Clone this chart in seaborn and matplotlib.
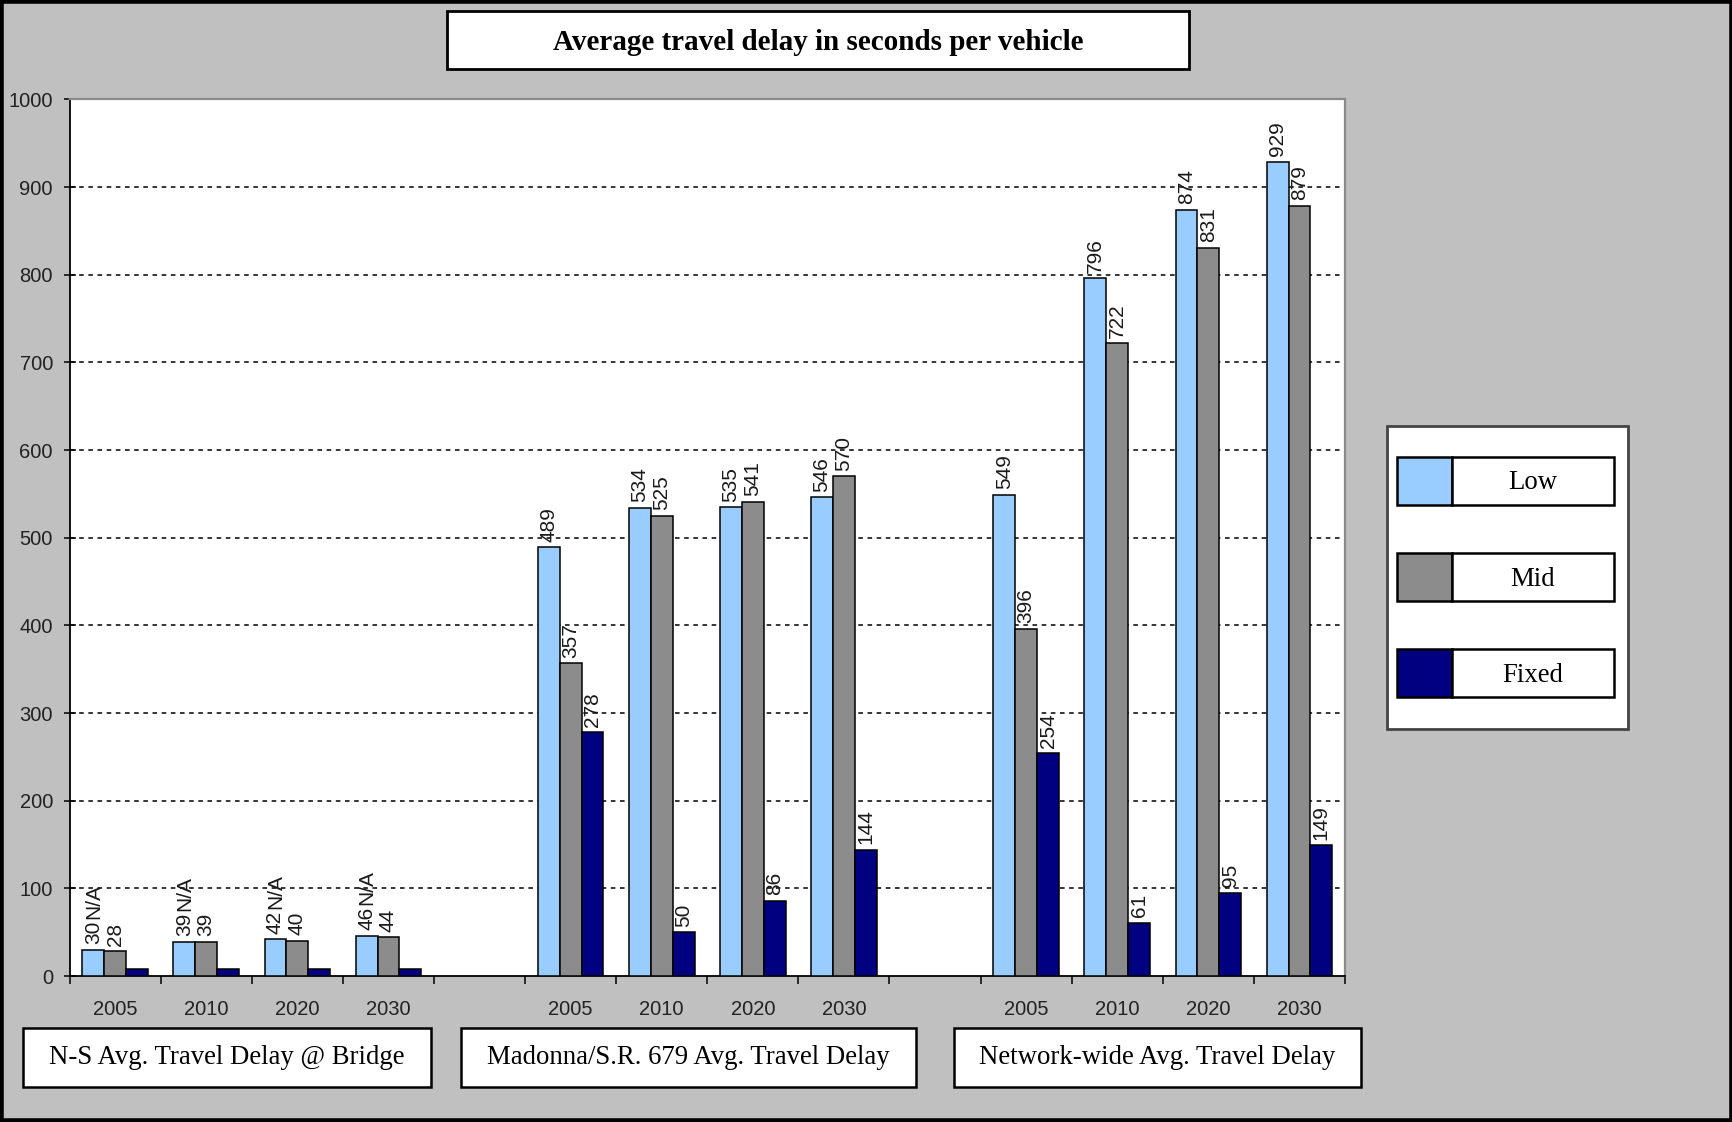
import matplotlib
matplotlib.use("Agg")
import numpy as np
import pandas as pd
import seaborn as sns
import matplotlib.pyplot as plt
from matplotlib.patches import Rectangle

# ---------------------------------------------------------------- data
years = ["2005", "2010", "2020", "2030"]
corridors = [
    "N-S Avg. Travel Delay @ Bridge",
    "Madonna/S.R. 679 Avg. Travel Delay",
    "Network-wide Avg. Travel Delay",
]
scenarios = ["Low", "Mid", "Fixed"]

ns_low = [30, 39, 42, 46]
ns_mid = [28, 39, 40, 44]
ns_fixed = [8, 8, 8, 8]          # placeholder height, reported as N/A
ns_fixed_label = "N/A"

mad_low = [489, 534, 535, 546]
mad_mid = [357, 525, 541, 570]
mad_fixed = [278, 50, 86, 144]

net_low = [549, 796, 874, 929]
net_mid = [396, 722, 831, 879]
net_fixed = [254, 61, 95, 149]

y_ticks = list(range(0, 1001, 100))

colors = {"Low": "#99CCFF", "Mid": "#8C8C8C", "Fixed": "#000080"}

series = {
    corridors[0]: {"Low": ns_low, "Mid": ns_mid, "Fixed": ns_fixed},
    corridors[1]: {"Low": mad_low, "Mid": mad_mid, "Fixed": mad_fixed},
    corridors[2]: {"Low": net_low, "Mid": net_mid, "Fixed": net_fixed},
}

# long table: one slot per corridor/year, with an empty slot between corridors
rows = []
order = []
for gi, corr in enumerate(corridors):
    if gi > 0:
        order.append(f"gap{gi}")
    for yi, yr in enumerate(years):
        slot = f"{gi}-{yr}"
        order.append(slot)
        for sc in scenarios:
            rows.append({"slot": slot, "corridor": corr, "year": yr,
                         "scenario": sc, "delay": series[corr][sc][yi]})
df = pd.DataFrame(rows)

# ---------------------------------------------------------------- figure
W, H = 1733, 1122
fig = plt.figure(figsize=(W / 100, H / 100), dpi=100)
fig.patch.set_facecolor("#C0C0C0")


def px_rect(x0, y0, x1, y1, **kw):
    """Rectangle given in figure pixel coordinates (origin top-left)."""
    r = Rectangle((x0 / W, 1 - y1 / H), (x1 - x0) / W, (y1 - y0) / H,
                  transform=fig.transFigure, **kw)
    fig.add_artist(r)
    return r


def px_text(x, y, s, **kw):
    fig.text(x / W, 1 - y / H, s, ha="center", va="center", **kw)


ax_l, ax_r, ax_t, ax_b = 69.6, 1345.0, 99.5, 976.0
ax = fig.add_axes([ax_l / W, 1 - ax_b / H, (ax_r - ax_l) / W, (ax_b - ax_t) / H])
ax.set_facecolor("white")

sns.barplot(data=df, x="slot", y="delay", hue="scenario", order=order,
            hue_order=scenarios, palette=colors, width=0.72, saturation=1,
            edgecolor="black", linewidth=1.1, errorbar=None, legend=False,
            ax=ax, zorder=3)

ax.set_ylim(0, 1000)
ax.set_xlim(-0.5, len(order) - 0.5)

# dashed gridlines between the axis ends
for v in y_ticks[1:-1]:
    ax.axhline(v, color="black", lw=1.1, ls=(0, (3, 3)), zorder=1)

# value labels, rotated
label_font = dict(fontsize=15, color="#1a1a1a", family="Liberation Sans")
low_tops = {}
for cont, sc in zip(ax.containers, scenarios):
    labels = []
    for bar in cont:
        xc = bar.get_x() + bar.get_width() / 2
        h = bar.get_height()
        if sc == "Low":
            low_tops[int(round(xc))] = (xc, h)
        if sc == "Fixed" and xc < 4:
            labels.append("")
        else:
            labels.append(f"{h:.0f}")
    ax.bar_label(cont, labels=labels, rotation=90, padding=4, **label_font)

# N/A labels of the N-S fixed scenario, stacked above the Low labels
for slot_idx in range(4):
    xc, h = low_tops[slot_idx]
    ax.annotate(ns_fixed_label, xy=(xc, h), xytext=(0, 22),
                textcoords="offset points", rotation=90, ha="center",
                va="bottom", **label_font)

# axes styling
ax.set_yticks(y_ticks)
ax.set_yticklabels([str(v) for v in y_ticks], fontsize=14.5,
                   color="#222222", family="Liberation Sans")
ax.tick_params(axis="y", direction="inout", length=8, width=1.1, pad=8,
               color="black")

xt_labels = []
for s in order:
    xt_labels.append("" if s.startswith("gap") else s.split("-")[1])
ax.set_xticks(range(len(order)))
ax.set_xticklabels(xt_labels, fontsize=14.5, color="#222222",
                   family="Liberation Sans")
ax.set_xticks(np.arange(-0.5, len(order), 1.0), minor=True)
ax.tick_params(axis="x", which="major", length=0, pad=17)
ax.tick_params(axis="x", which="minor", length=6, width=1.1,
               direction="out", color="black")
ax.set_xlabel("")
ax.set_ylabel("")

for side in ("left", "bottom"):
    ax.spines[side].set_color("black")
    ax.spines[side].set_linewidth(1.3)
for side in ("top", "right"):
    ax.spines[side].set_color("#8a8a8a")
    ax.spines[side].set_linewidth(1.6)

# ---------------------------------------------------------------- title box
px_rect(447, 11, 1189, 68.5, facecolor="white", edgecolor="black", lw=2)
px_text(818, 42, "Average travel delay in seconds per vehicle",
        fontsize=21, fontweight="bold", family="Liberation Serif")

# ---------------------------------------------------------------- corridor boxes
boxes = [(23, 431), (461, 916), (954, 1361)]
for (x0, x1), name in zip(boxes, corridors):
    px_rect(x0, 1028, x1, 1087, facecolor="white", edgecolor="black", lw=1.8)
    px_text((x0 + x1) / 2, 1057, name, fontsize=19.3,
            family="Liberation Serif")

# ---------------------------------------------------------------- legend
px_rect(1387, 426, 1628, 729, facecolor="white", edgecolor="#444444", lw=2)
for sc, (y0, y1) in zip(scenarios, [(457, 505), (553, 601), (649, 697)]):
    px_rect(1397, y0, 1452, y1, facecolor=colors[sc], edgecolor="black", lw=1.8)
    px_rect(1452, y0, 1614, y1, facecolor="white", edgecolor="black", lw=1.8)
    px_text(1533, (y0 + y1) / 2 + 2, sc, fontsize=19.3,
            family="Liberation Serif")

# outer frame
px_rect(1, 1, W - 1, H - 1, facecolor="none", edgecolor="black", lw=4)

fig.savefig("out.png", dpi=100, facecolor=fig.get_facecolor())
